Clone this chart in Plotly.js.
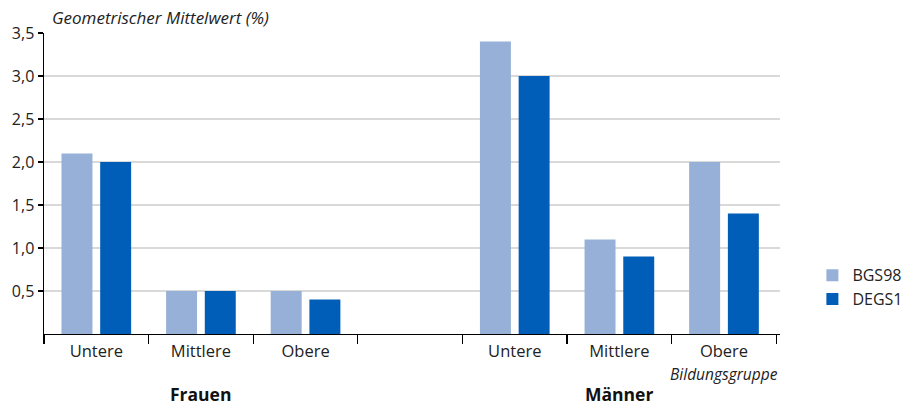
<!DOCTYPE html>
<html>
<head>
<meta charset="utf-8">
<script src="https://cdn.plot.ly/plotly-3.0.1.min.js"></script>
<style>html,body{margin:0;padding:0;background:#fff;}#chart{width:908px;height:405px;}</style>
</head>
<body>
<div id="chart"></div>
<script>
const categories = ["F_Untere", "F_Mittlere", "F_Obere", "gap", "M_Untere", "M_Mittlere", "M_Obere"];
const tickLabels = ["Untere", "Mittlere", "Obere", "", "Untere", "Mittlere", "Obere"];
const bgs98 = [2.1, 0.5, 0.5, null, 3.4, 1.1, 2.0];
const degs1 = [2.0, 0.5, 0.4, null, 3.0, 0.9, 1.4];
const groupLabels = ["Frauen", "Männer"];
const groupCenters = [1, 5];
const yTicks = [0.5, 1.0, 1.5, 2.0, 2.5, 3.0, 3.5];

const font = "'Open Sans', sans-serif";

const traces = [
  {type: "bar", name: "BGS98", x: categories, y: bgs98, marker: {color: "#97b0d7"}, hoverinfo: "skip"},
  {type: "bar", name: "DEGS1", x: categories, y: degs1, marker: {color: "#005eb8"}, hoverinfo: "skip"}
];

const annotations = [
  {text: "Geometrischer Mittelwert (%)", xref: "paper", yref: "paper", x: 0.008, y: 1.05, xanchor: "left", yanchor: "middle", showarrow: false, font: {family: font, size: 17, style: "italic", color: "#222"}},
  {text: "Bildungsgruppe", xref: "x", yref: "paper", x: 6, y: -0.133, xanchor: "center", yanchor: "middle", showarrow: false, font: {family: font, size: 15.5, style: "italic", color: "#222"}}
];
groupLabels.forEach((g, i) => annotations.push({
  text: "<b>" + g + "</b>", xref: "x", yref: "paper", x: groupCenters[i], y: -0.2, xanchor: "center", yanchor: "middle",
  showarrow: false, font: {family: font, size: 17.5, color: "#111"}
}));

const layout = {
  width: 908, height: 405,
  margin: {l: 44, r: 128, t: 33, b: 71, autoexpand: false},
  paper_bgcolor: "#fff", plot_bgcolor: "#fff",
  separators: ",.",
  barmode: "group", bargap: 0.26, bargroupgap: 0.2,
  font: {family: font, size: 16, color: "#222"},
  showlegend: true,
  legend: {x: 1.044, y: 0.155, xanchor: "left", yanchor: "middle", font: {family: font, size: 16, color: "#222"}, itemwidth: 30, tracegroupgap: 4},
  xaxis: {
    type: "category", categoryorder: "array", categoryarray: categories,
    tickmode: "array", tickvals: categories, ticktext: tickLabels,
    tickson: "boundaries", ticks: "outside", ticklen: 9, tickcolor: "#000", tickwidth: 1.2,
    showline: true, linecolor: "#000", linewidth: 1.2, showgrid: false, zeroline: false,
    ticklabelstandoff: 2,
    tickfont: {family: font, size: 16.5, color: "#222"}, fixedrange: true
  },
  yaxis: {
    range: [0, 3.5], tickmode: "array", tickvals: yTicks, tickformat: ".1f",
    ticks: "outside", ticklen: 5, tickcolor: "#000", tickwidth: 1.2,
    showline: true, linecolor: "#000", linewidth: 1.5,
    showgrid: true, gridcolor: "#d9d9d9", gridwidth: 1.5, zeroline: false,
    tickfont: {family: font, size: 16, color: "#222"}, fixedrange: true
  },
  annotations: annotations
};

Plotly.newPlot("chart", traces, layout, {displayModeBar: false, staticPlot: true});
</script>
</body>
</html>
